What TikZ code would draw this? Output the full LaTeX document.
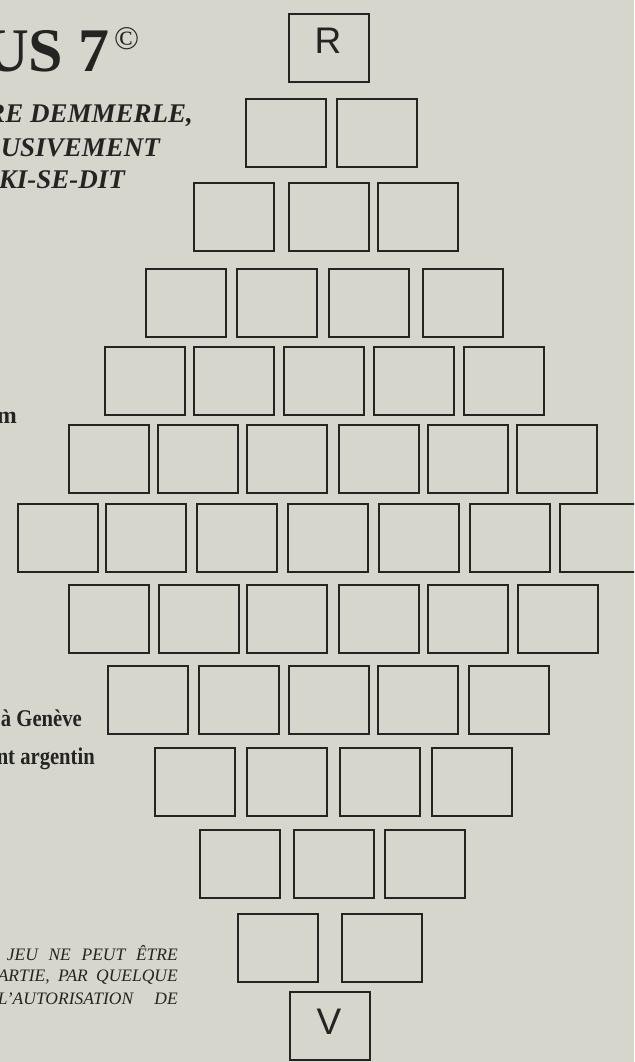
\documentclass[tikz,border=0pt]{standalone}
\usepackage{fontspec}
\setmainfont{Liberation Serif}
\newfontfamily\lsans{Liberation Sans}
\definecolor{paper}{RGB}{214,214,205}
\definecolor{ink}{RGB}{36,36,34}
\tikzset{
  cell/.style={draw=ink, line width=1.8pt, minimum width=80.2pt, minimum height=68.2pt, inner sep=0pt, anchor=north west},
  txt/.style={inner sep=0pt, text=ink},
  letter/.style={txt, anchor=base, font=\lsans\fontsize{37}{37}\selectfont},
  bihead/.style={txt, anchor=base east, font=\bfseries\itshape\fontsize{27}{27}\selectfont},
  boldline/.style={txt, anchor=base east, font=\bfseries\fontsize{24}{24}\selectfont},
  itline/.style={txt, anchor=base east, font=\itshape\fontsize{17.5}{17.5}\selectfont}
}
\begin{document}
\begin{tikzpicture}[x=1pt,y=-1pt]
\useasboundingbox (0,0) rectangle (634,1062);
\fill[paper] (0,0) rectangle (634,1062);
\clip (0,0) rectangle (634,1062);
% grid of boxes
\foreach \r/\t/\xs in {
  1/12/{287},
  2/97/{244,335},
  3/181/{192,287,376},
  4/267/{144,235,327,421},
  5/345/{103,192,282,372,462},
  6/423/{67,156,245,337,426,515},
  7/502/{16,104,195,286,377,468,558},
  8/583/{67,157,245,337,426,516},
  9/664/{106,197,287,376,467},
  10/746/{153,245,338,430},
  11/828/{198,292,383},
  12/912/{236,340},
  13/990/{288}}{
  \foreach \x [count=\c] in \xs {
    \node[cell] (b\r-\c) at (\x+0.9,\t+0.9) {};
  }
}
\node[letter] (lblR) at (328,54) {R};
\node[letter] (lblV) at (329,1034) {V};
% left texts
\node[txt, anchor=base east, font=\bfseries\fontsize{62}{62}\selectfont] (title) at (110,72) {US 7};
\node[txt, anchor=base west, font=\fontsize{33}{33}\selectfont] (copy) at (114,50) {©};
\node[bihead] (h1) at (193,123) {RE DEMMERLE,};
\node[bihead] (h2) at (160,156) {USIVEMENT};
\node[bihead] (h3) at (125,188) {KI-SE-DIT};
\node[boldline] (m1) at (17,423) {m};
\node[boldline] (g1) at (82,726) {\scalebox{0.86}[1]{à Genève}};
\node[boldline] (a1) at (95,764) {\scalebox{0.86}[1]{nt argentin}};
\node[itline] (c1) at (178,960) {\makebox[171pt][s]{JEU NE PEUT ÊTRE}};
\node[itline] (c2) at (178,981) {\makebox[180pt][s]{ARTIE, PAR QUELQUE}};
\node[itline] (c3) at (178,1004) {\makebox[180pt][s]{L’AUTORISATION DE}};
\end{tikzpicture}
\end{document}
